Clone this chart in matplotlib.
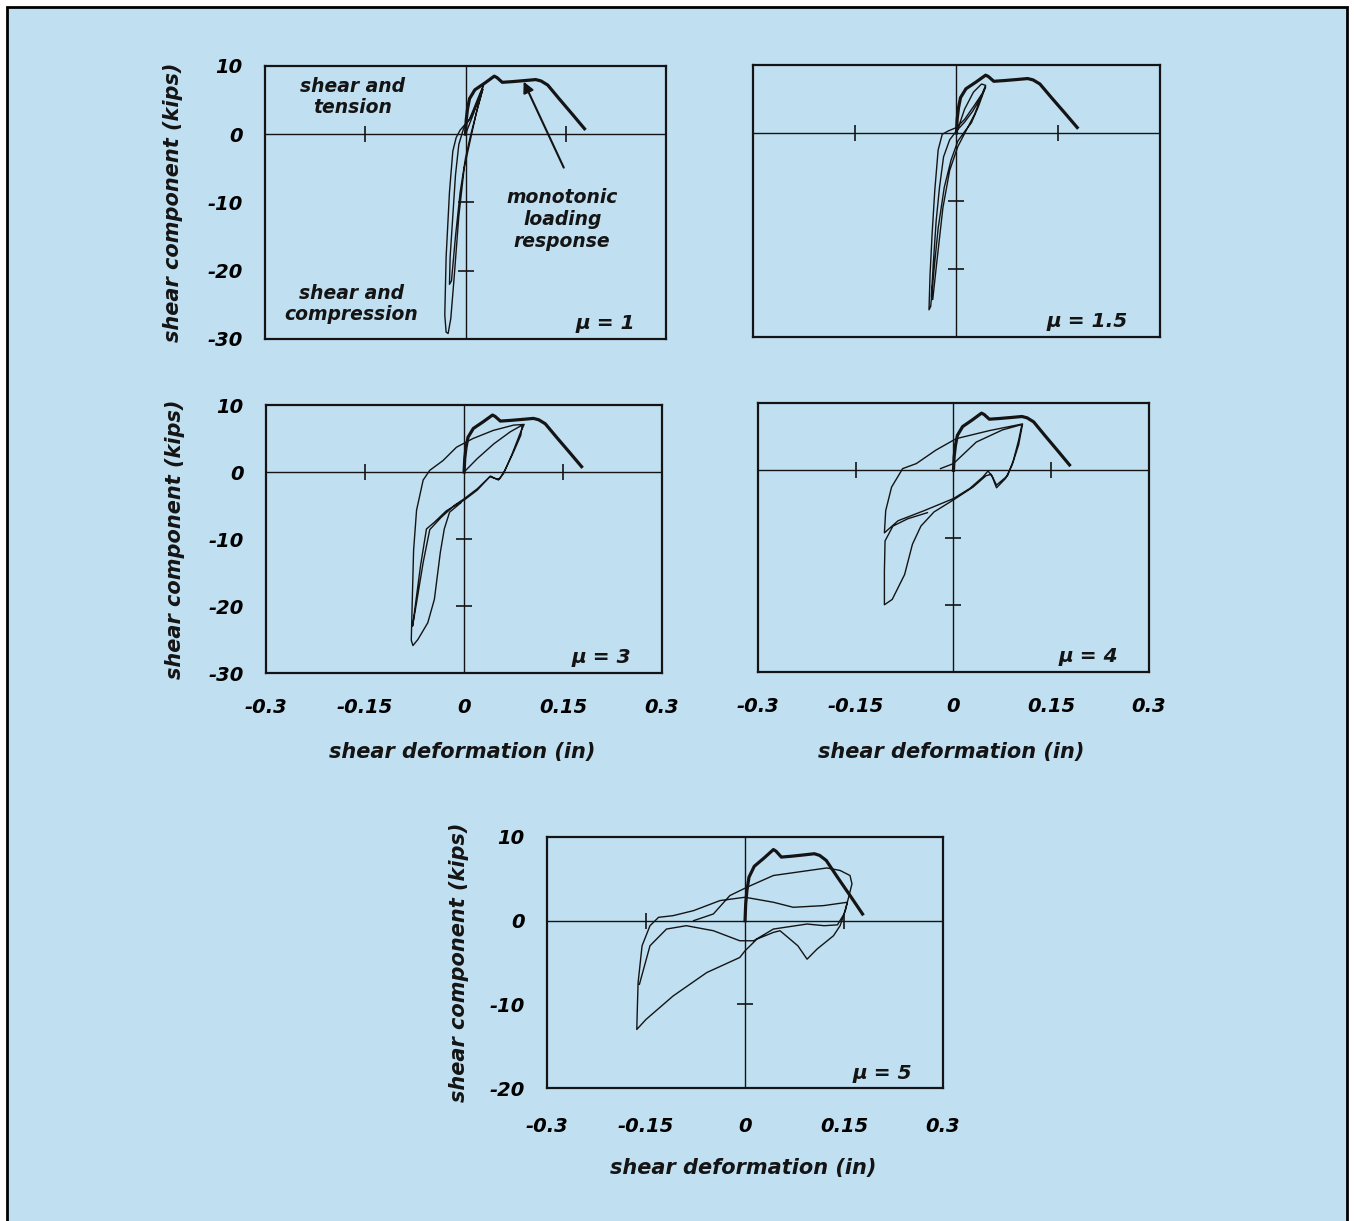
import matplotlib
matplotlib.use("Agg")
import matplotlib.pyplot as plt
from matplotlib.patches import Rectangle

# monotonic loading response (same curve in every panel)
mono_x = [0.0, 0.001, 0.003, 0.006, 0.014, 0.029, 0.043, 0.047, 0.055, 0.07, 0.088, 0.105, 0.113, 0.123, 0.14, 0.16, 0.178]
mono_y = [0.0, 2.0, 3.7, 5.2, 6.5, 7.5, 8.5, 8.3, 7.6, 7.7, 7.85, 8.0, 7.8, 7.2, 5.2, 2.9, 0.8]

# cyclic response, mu = 1
mu1_x = [0.0, 0.012, 0.022, 0.027, 0.02, 0.006, -0.008, -0.014, -0.019, -0.024, -0.029, -0.031, -0.029,
         -0.026, -0.022, -0.017, -0.01, -0.002, 0.008, 0.017, 0.026, 0.02, 0.008, -0.003, -0.01, -0.015,
         -0.019, -0.023, -0.024, -0.021, -0.015, -0.008, 0.0, 0.008, 0.016, 0.024]
mu1_y = [0.0, 3.0, 5.8, 7.2, 5.6, 2.2, 0.6, -0.5, -2.5, -8.5, -18.0, -26.5, -29.0,
         -29.2, -27.0, -21.0, -12.0, -5.0, -0.5, 3.5, 6.6, 5.0, 2.5, 0.8, -1.5, -6.0,
         -12.0, -18.0, -22.0, -21.5, -15.0, -8.5, -3.5, 0.0, 3.0, 6.0]

# cyclic response, mu = 1.5
mu2_x = [0.0, 0.012, 0.025, 0.037, 0.043, 0.038, 0.026, 0.012, 0.0, -0.012, -0.021, -0.027, -0.032,
         -0.036, -0.039, -0.0405, -0.038, -0.033, -0.027, -0.018, -0.008, 0.002, 0.012, 0.022, 0.032,
         0.04, 0.043, 0.036, 0.024, 0.012, 0.0, -0.01, -0.019, -0.025, -0.03, -0.034, -0.037, -0.035,
         -0.029, -0.02, -0.01, 0.002, 0.015, 0.027, 0.037]
mu2_y = [0.0, 3.5, 6.0, 7.2, 7.0, 5.8, 4.0, 2.0, 0.8, 0.3, -0.2, -2.5, -8.5,
         -15.0, -21.0, -26.0, -25.5, -20.0, -14.0, -8.0, -4.0, -1.2, 0.2, 1.5, 3.8,
         6.0, 6.8, 5.2, 3.2, 1.6, 0.3, -1.0, -3.5, -8.0, -13.0, -19.0, -24.0, -24.5,
         -19.0, -11.0, -5.5, -2.0, 0.5, 2.8, 5.5]

# cyclic response, mu = 3
mu3_x = [0.0, 0.02, 0.045, 0.07, 0.088, 0.086, 0.075, 0.062, 0.054, 0.048, 0.039, 0.02, 0.0, -0.027,
         -0.045, -0.057, -0.066, -0.074, -0.078, -0.072, -0.062, -0.052, -0.035, -0.015, 0.0, 0.02,
         0.04, 0.052, 0.06, 0.072, 0.085, 0.091, 0.075, 0.044, 0.0135, -0.0115, -0.032, -0.052,
         -0.062, -0.072, -0.0765, -0.0785, -0.08, -0.0775, -0.07, -0.055, -0.045, -0.036, -0.03,
         -0.022, -0.005]
mu3_y = [0.0, 2.0, 4.2, 6.0, 7.0, 5.5, 3.0, 0.3, -1.0, -1.0, -0.7, -2.7, -4.2, -5.8,
         -7.5, -8.5, -14.0, -20.0, -23.0, -19.5, -13.5, -8.6, -6.8, -5.0, -4.0, -2.5,
         -0.6, -1.2, -0.2, 2.5, 5.8, 7.1, 7.0, 6.2, 5.0, 3.7, 1.7, 0.25,
         -1.2, -5.7, -11.7, -19.2, -25.1, -25.9, -25.0, -22.5, -19.0, -12.0, -8.5,
         -6.0, -4.6]

# cyclic response, mu = 4
mu4_x = [-0.02, 0.0, 0.035, 0.075, 0.105, 0.1, 0.092, 0.083, 0.066, 0.06, 0.053, 0.045, 0.025, 0.0,
         -0.045, -0.085, -0.106, -0.104, -0.095, -0.078, -0.057, -0.027, 0.004, 0.055, 0.106, 0.1,
         0.09, 0.08, 0.066, 0.058, 0.05, 0.03, 0.0, -0.03, -0.05, -0.063, -0.075, -0.094, -0.106,
         -0.106, -0.105, -0.093, -0.07, -0.04]
mu4_y = [0.25, 1.0, 4.2, 6.0, 6.8, 4.5, 1.5, -0.8, -2.2, -1.0, -0.1, -1.0, -2.7, -4.2,
         -6.0, -7.5, -9.3, -6.0, -2.5, 0.25, 1.0, 3.0, 4.7, 5.9, 6.9, 3.8,
         0.8, -1.2, -2.6, -0.6, -0.8, -2.5, -4.4, -6.2, -8.3, -11.0, -15.5, -19.2, -20.0,
         -15.0, -10.5, -8.3, -7.2, -6.3]

# cyclic response, mu = 5
mu5_x = [-0.078, -0.048, -0.023, 0.003, 0.043, 0.124, 0.144, 0.159, 0.162, 0.155, 0.152, 0.144,
         0.134, 0.109, 0.094, 0.08, 0.053, 0.043, 0.018, 0.0, -0.008, -0.058, -0.109, -0.15, -0.164,
         -0.163, -0.162, -0.156, -0.144, -0.131, -0.109, -0.078, -0.038, 0.0, 0.043, 0.073, 0.119,
         0.155, 0.15, 0.14, 0.12, 0.094, 0.043, 0.013, -0.008, -0.048, -0.089, -0.119, -0.144, -0.16]
mu5_y = [0.0, 0.8, 3.0, 4.0, 5.4, 6.3, 6.0, 5.4, 4.4, 2.2, 1.2, -0.6,
         -1.8, -3.4, -4.6, -3.0, -1.2, -1.4, -2.2, -3.6, -4.4, -6.2, -9.0, -11.8, -13.0,
         -10.0, -7.4, -3.0, -0.6, 0.4, 0.6, 1.2, 2.4, 2.8, 2.2, 1.6, 1.8,
         2.2, 0.8, -0.5, -0.6, -0.4, -1.0, -2.4, -2.4, -1.2, -0.6, -1.0, -3.0, -7.6]

x_ticks = [-0.3, -0.15, 0, 0.15, 0.3]
x_ticklabels = ['-0.3', '-0.15', '0', '0.15', '0.3']
mu_labels = ['1', '1.5', '3', '4', '5']

BG = '#c0dff1'
INK = '#141414'
FONT = dict(family='DejaVu Sans', weight='bold', style='italic')


def draw_panel(fig, rect, cyc_x, cyc_y, mu, ymin, xlabels, ylabel_x=None, xpad=18):
    ax = fig.add_axes(rect)
    ax.set_facecolor('none')
    ax.set_xlim(-0.3, 0.3)
    ax.set_ylim(ymin, 10)
    for s in ax.spines.values():
        s.set_linewidth(1.6)
        s.set_color(INK)

    # crossing zero axes with their own small marks
    ax.axhline(0, color=INK, lw=1.0, zorder=1)
    ax.axvline(0, color=INK, lw=1.0, zorder=1)
    ax.plot([-0.15, 0.15], [0, 0], ls='none', marker='|', ms=11, mew=1.2, color=INK)
    yt = [v for v in range(-10, ymin, -10)]
    ax.plot([0] * len(yt), yt, ls='none', marker='_', ms=12, mew=1.2, color=INK)

    ax.plot(cyc_x, cyc_y, color=INK, lw=1.0, zorder=3)
    ax.plot(mono_x, mono_y, color=INK, lw=2.3, zorder=4, solid_joinstyle='round')

    yticks = list(range(10, ymin - 1, -10))
    ax.set_yticks(yticks)
    ax.set_yticklabels([str(v) for v in yticks], fontsize=14, **FONT)
    ax.set_xticks(x_ticks)
    ax.set_xticklabels(x_ticklabels, fontsize=14, **FONT)
    ax.tick_params(axis='y', length=0, pad=16, labelleft=ylabel_x is not None)
    ax.tick_params(axis='x', length=0, pad=xpad, labelbottom=xlabels)

    ax.text(0.922, 0.058, '\u03bc = ' + mu, transform=ax.transAxes, ha='right', va='center',
            fontsize=14.5, color=INK, **FONT)
    if ylabel_x is not None:
        ax.text(ylabel_x, 0.5, 'shear component (kips)', transform=ax.transAxes, rotation=90,
                ha='center', va='center', fontsize=15, color=INK, **FONT)
    return ax


fig = plt.figure(figsize=(13.54, 12.21), dpi=100, facecolor='white')
fig.add_artist(Rectangle((7 / 1354, -0.02), 1340 / 1354, 1.02 - 7 / 1221, transform=fig.transFigure,
                         facecolor=BG, edgecolor='black', lw=2, zorder=0))

ax1 = draw_panel(fig, [0.1957, 0.7224, 0.2962, 0.2236], mu1_x, mu1_y, mu_labels[0], -30, False, -0.23)
ax2 = draw_panel(fig, [0.5561, 0.7240, 0.3006, 0.2228], mu2_x, mu2_y, mu_labels[1], -30, False)
ax3 = draw_panel(fig, [0.1965, 0.4488, 0.2925, 0.2195], mu3_x, mu3_y, mu_labels[2], -30, True, -0.23)
ax4 = draw_panel(fig, [0.5598, 0.4496, 0.2888, 0.2203], mu4_x, mu4_y, mu_labels[3], -30, True)
ax5 = draw_panel(fig, [0.4040, 0.1089, 0.2925, 0.2056], mu5_x, mu5_y, mu_labels[4], -20, True, -0.222, xpad=21)

for ax, ypos in [(ax3, -0.295), (ax4, -0.297), (ax5, -0.319)]:
    ax.text(0.495, ypos, 'shear deformation (in)', transform=ax.transAxes, ha='center', va='center',
            fontsize=15, color=INK, **FONT)

# annotations on the first panel
ax1.text(0.219, 0.886, 'shear and\ntension', transform=ax1.transAxes, ha='center', va='center',
         fontsize=13.5, color=INK, linespacing=1.15, **FONT)
ax1.text(0.2145, 0.128, 'shear and\ncompression', transform=ax1.transAxes, ha='center', va='center',
         fontsize=13.5, color=INK, linespacing=1.15, **FONT)
ax1.text(0.741, 0.436, 'monotonic\nloading\nresponse', transform=ax1.transAxes, ha='center', va='center',
         fontsize=13.5, color=INK, linespacing=1.2, **FONT)
ax1.annotate('', xy=(0.087, 7.7), xytext=(0.147, -4.9),
             arrowprops=dict(arrowstyle='-|>', lw=1.5, color=INK, mutation_scale=16, shrinkA=0, shrinkB=0))

fig.savefig('out.png', dpi=100, facecolor='white')
